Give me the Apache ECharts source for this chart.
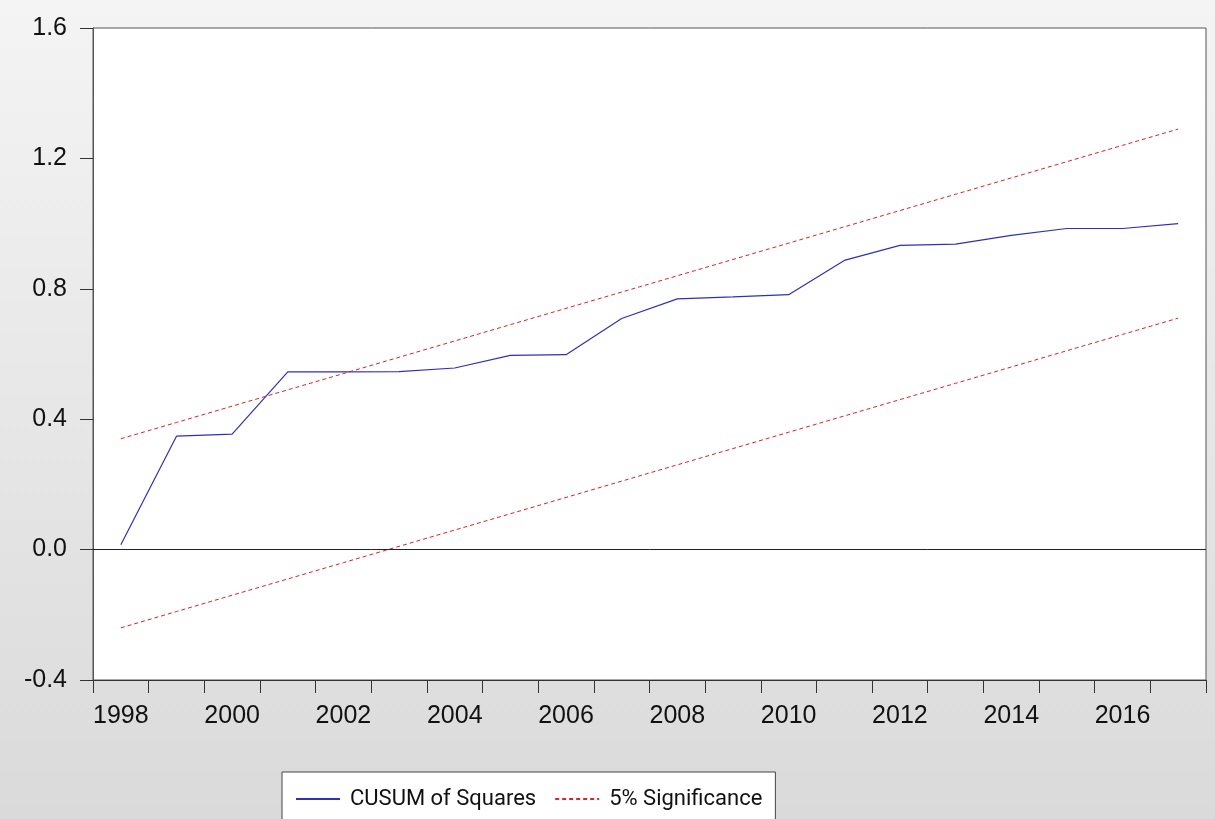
<!DOCTYPE html>
<html>
<head>
<meta charset="utf-8">
<script src="https://cdn.jsdelivr.net/npm/echarts@6/dist/echarts.min.js"></script>
<style>
html, body { margin: 0; padding: 0; }
#chart { width: 1215px; height: 819px; }
</style>
</head>
<body>
<div id="chart"></div>
<script>
var years = ['1998','1999','2000','2001','2002','2003','2004','2005','2006','2007',
	'2008','2009','2010','2011','2012','2013','2014','2015','2016','2017'];
var cusumSq = [0.015, 0.348, 0.354, 0.545, 0.545, 0.546, 0.557, 0.596, 0.598, 0.709,
	0.769, 0.775, 0.782, 0.887, 0.933, 0.937, 0.964, 0.985, 0.985, 1.000];
var upperBand = [0.34, 0.39, 0.44, 0.49, 0.54, 0.59, 0.64, 0.69, 0.74, 0.79,
	0.84, 0.89, 0.94, 0.99, 1.04, 1.09, 1.14, 1.19, 1.24, 1.29];
var lowerBand = [-0.24, -0.19, -0.14, -0.09, -0.04, 0.01, 0.06, 0.11, 0.16, 0.21,
	0.26, 0.31, 0.36, 0.41, 0.46, 0.51, 0.56, 0.61, 0.66, 0.71];
var yTicks = [-0.4, 0.0, 0.4, 0.8, 1.2, 1.6];

var myChart = echarts.init(document.getElementById('chart'));
var labelFont = 'Arial, "Liberation Sans", sans-serif';
var redLine = {color: '#e0202a', width: 1, type: [4, 3]};

var option = {
	animation: false,
	backgroundColor: {
		type: 'linear', x: 0, y: 0, x2: 0, y2: 1,
		colorStops: [{offset: 0, color: '#f4f4f4'}, {offset: 1, color: '#dadada'}]
	},
	grid: {
		left: 93,
		right: 9,
		top: 28,
		bottom: 139,
		show: true,
		backgroundColor: '#fff',
		borderColor: '#555',
		borderWidth: 1,
		containLabel: false
	},
	legend: {
		left: 282,
		top: 772,
		padding: [16, 13, 30, 13],
		backgroundColor: '#fff',
		borderColor: '#444',
		borderWidth: 1,
		itemWidth: 44,
		itemHeight: 14,
		itemGap: 18,
		itemStyle: {opacity: 0},
		textStyle: {
			fontFamily: 'Roboto, Arial, sans-serif',
			fontSize: 22,
			color: '#111',
			padding: [0, 0, 0, 5]
		},
		data: ['CUSUM of Squares', '5% Significance']
	},
	xAxis: {
		type: 'category',
		data: years,
		boundaryGap: true,
		axisLine: {onZero: false, lineStyle: {color: '#333', width: 1}},
		axisTick: {show: true, interval: 0, length: 13, lineStyle: {color: '#333'}},
		axisLabel: {
			interval: 1,
			margin: 24,
			fontSize: 25,
			fontFamily: labelFont,
			color: '#111'
		},
		splitLine: {show: false}
	},
	yAxis: {
		type: 'value',
		min: yTicks[0],
		max: yTicks[yTicks.length - 1],
		interval: 0.4,
		axisLine: {show: true, lineStyle: {color: '#555', width: 1}},
		axisTick: {show: true, length: 13, lineStyle: {color: '#333'}},
		axisLabel: {
			margin: 26,
			fontSize: 25,
			fontFamily: labelFont,
			color: '#111',
			formatter: function (v) { return v.toFixed(1); }
		},
		splitLine: {show: false}
	},
	series: [
		{
			name: 'CUSUM of Squares',
			type: 'line',
			data: cusumSq,
			symbol: 'none',
			lineStyle: {color: '#2f2fbf', width: 1.2},
			itemStyle: {color: '#2f2fbf'},
			z: 3,
			markLine: {
				silent: true,
				symbol: ['none', 'none'],
				label: {show: false},
				lineStyle: {color: '#222', type: 'solid', width: 1},
				data: [{yAxis: 0}]
			}
		},
		{
			name: '5% Significance',
			type: 'line',
			data: upperBand,
			symbol: 'none',
			lineStyle: redLine,
			itemStyle: {color: '#e0202a'}
		},
		{
			name: '5% Significance',
			type: 'line',
			data: lowerBand,
			symbol: 'none',
			lineStyle: redLine,
			itemStyle: {color: '#e0202a'}
		}
	]
};
myChart.setOption(option);
window.onresize = function () {
	myChart.resize();
};
</script>
</body>
</html>
